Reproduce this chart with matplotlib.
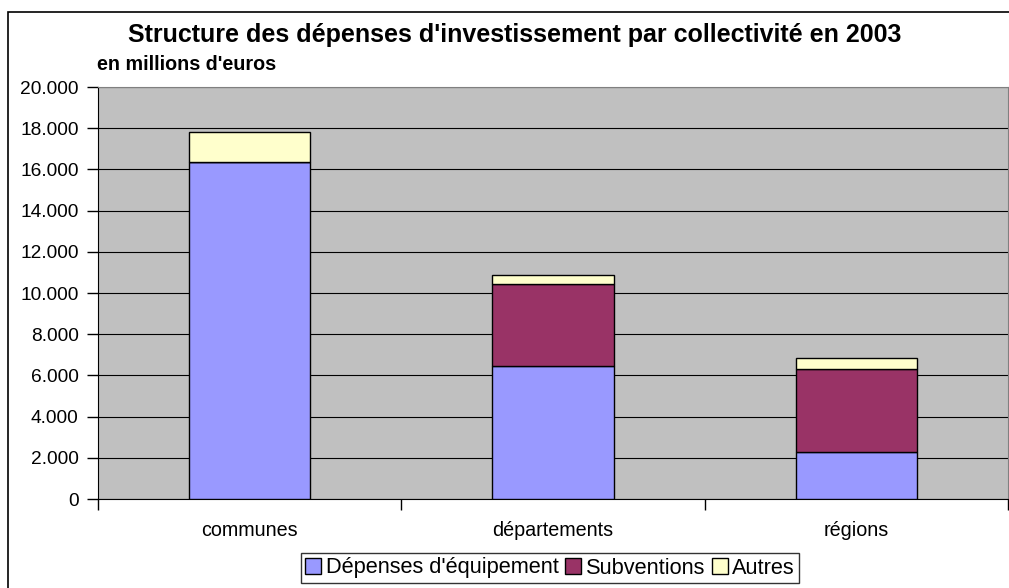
import matplotlib
matplotlib.use('Agg')
import matplotlib.pyplot as plt
from matplotlib.patches import Rectangle
from matplotlib.ticker import FuncFormatter

plt.rcParams['font.family'] = ['Liberation Sans', 'DejaVu Sans']

categories = ['communes', 'départements', 'régions']
equipement = [16350, 6450, 2280]
subventions = [0, 3990, 4010]
autres = [1450, 450, 540]
series_names = ["Dépenses d'équipement", 'Subventions', 'Autres']
colors = ['#9999FF', '#993366', '#FFFFCC']

fig = plt.figure(figsize=(10.09, 5.88), dpi=100)
# outer chart frame
fig.patches.append(Rectangle((8/1009, -0.05), 1.1, 1 - 12/588 + 0.05, transform=fig.transFigure,
                             fill=False, edgecolor='black', linewidth=1.2))

ax = fig.add_axes([98/1009, 1 - 499/588, 910/1009, 412/588])
ax.set_facecolor('#C0C0C0')

x = list(range(len(categories)))
bottom2 = equipement
bottom3 = [a + b for a, b in zip(equipement, subventions)]
ax.bar(x, equipement, width=0.4, color=colors[0], edgecolor='black', linewidth=1, label=series_names[0], zorder=3)
ax.bar(x, subventions, width=0.4, bottom=bottom2, color=colors[1], edgecolor='black', linewidth=1, label=series_names[1], zorder=3)
ax.bar(x, autres, width=0.4, bottom=bottom3, color=colors[2], edgecolor='black', linewidth=1, label=series_names[2], zorder=3)

ax.set_xlim(-0.5, 2.5)
ax.set_ylim(0, 20000)
ax.set_yticks(range(0, 20001, 2000))
ax.yaxis.set_major_formatter(FuncFormatter(lambda v, p: '{:,.0f}'.format(v).replace(',', '.')))
ax.grid(axis='y', color='black', linewidth=0.8, zorder=1)
ax.tick_params(axis='y', labelsize=13.8, length=8, direction='out', width=1, pad=6)

ax.set_xticks([-0.5, 0.5, 1.5, 2.5])
ax.set_xticklabels([])
ax.set_xticks(x, minor=True)
ax.set_xticklabels(categories, minor=True)
ax.tick_params(axis='x', which='major', length=8, width=1)
ax.tick_params(axis='x', which='minor', length=0, labelsize=14.2, pad=16)

for s in ['top', 'right']:
    ax.spines[s].set_color('#808080')
ax.spines['left'].set_color('black')
ax.spines['bottom'].set_color('black')

fig.text(515/1009, 1 - 35/588, "Structure des dépenses d'investissement par collectivité en 2003",
         ha='center', va='center', fontsize=18, fontweight='bold')
fig.text(97/1009, 1 - 65/588, "en millions d'euros", ha='left', va='center', fontsize=14.2, fontweight='bold')

leg = fig.legend(loc='center', bbox_to_anchor=(550/1009, 1 - 568/588), ncol=3, fontsize=15.7,
                 frameon=True, fancybox=False, edgecolor='black', handlelength=0.75, handleheight=0.75,
                 handletextpad=0.2, columnspacing=0.3, borderpad=0.2, borderaxespad=0)
leg.get_frame().set_linewidth(1)

fig.savefig('out.png', dpi=100)
